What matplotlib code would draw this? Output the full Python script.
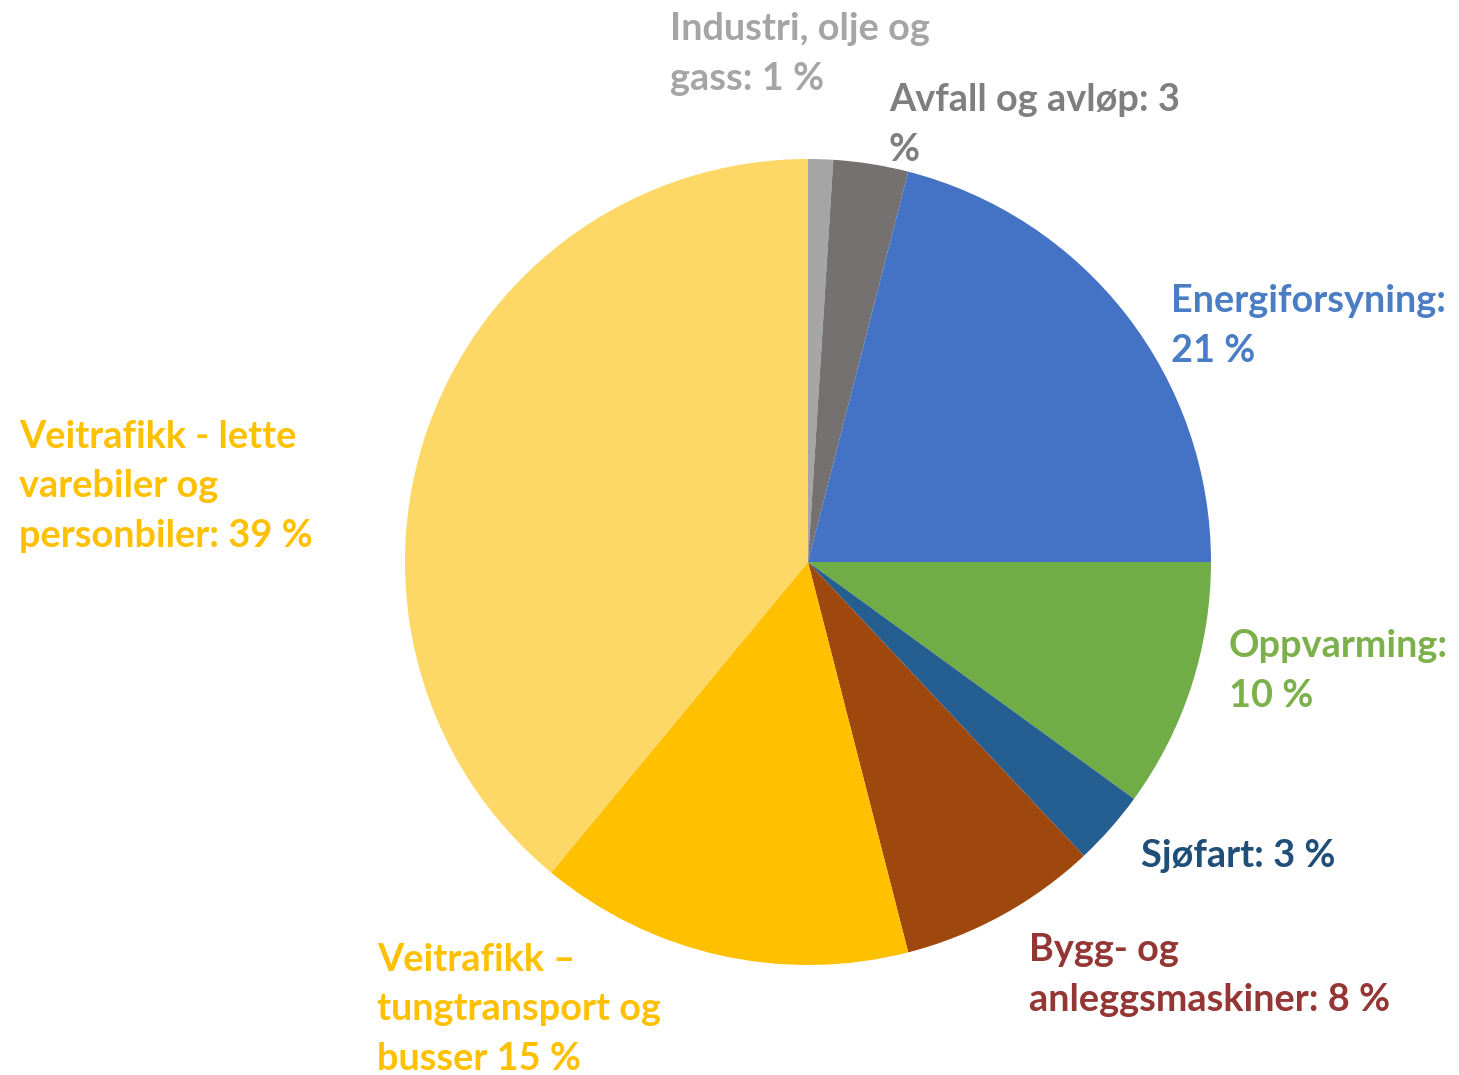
import matplotlib
matplotlib.use("Agg")
import matplotlib.pyplot as plt

# Data
labels = [
    "Industri, olje og\ngass: 1 %",
    "Avfall og avløp: 3\n%",
    "Energiforsyning:\n21 %",
    "Oppvarming:\n10 %",
    "Sjøfart: 3 %",
    "Bygg- og\nanleggsmaskiner: 8 %",
    "Veitrafikk –\ntungtransport og\nbusser 15 %",
    "Veitrafikk - lette\nvarebiler og\npersonbiler: 39 %",
]
values = [1, 3, 21, 10, 3, 8, 15, 39]
slice_colors = ["#A5A5A5", "#767171", "#4472C4", "#70AD47", "#255E91",
                "#9E480E", "#FFC000", "#FDD866"]
label_colors = ["#A5A5A5", "#7F7F7F", "#4A7DC4", "#7CB04A", "#1F4E79",
                "#943634", "#FFC000", "#FFC000"]
# label anchor (left x, last-line baseline y) in pixel coords from top-left
label_pos = [(670, 90), (889, 161), (1171, 362), (1229, 707), (1141, 867),
             (1029, 1011), (377, 1070), (19, 547)]

W, H = 1459, 1075
fig = plt.figure(figsize=(W / 100, H / 100), dpi=100)
ax = fig.add_axes([0, 0, 1, 1])

cx, cy, r = 808, H - 562, 403
ax.pie(values, colors=slice_colors, startangle=90, counterclock=False,
       center=(cx, cy), radius=r, wedgeprops=dict(linewidth=0),
       frame=True)
ax.set_xlim(0, W)
ax.set_ylim(0, H)
ax.set_aspect("equal")
ax.axis("off")

for text, col, (x, y) in zip(labels, label_colors, label_pos):
    ax.text(x, H - y, text, color=col, fontsize=27.3, fontweight="bold",
            family=["Lato", "DejaVu Sans"], ha="left", va="baseline",
            linespacing=1.56)

fig.savefig("out.png", dpi=100)
